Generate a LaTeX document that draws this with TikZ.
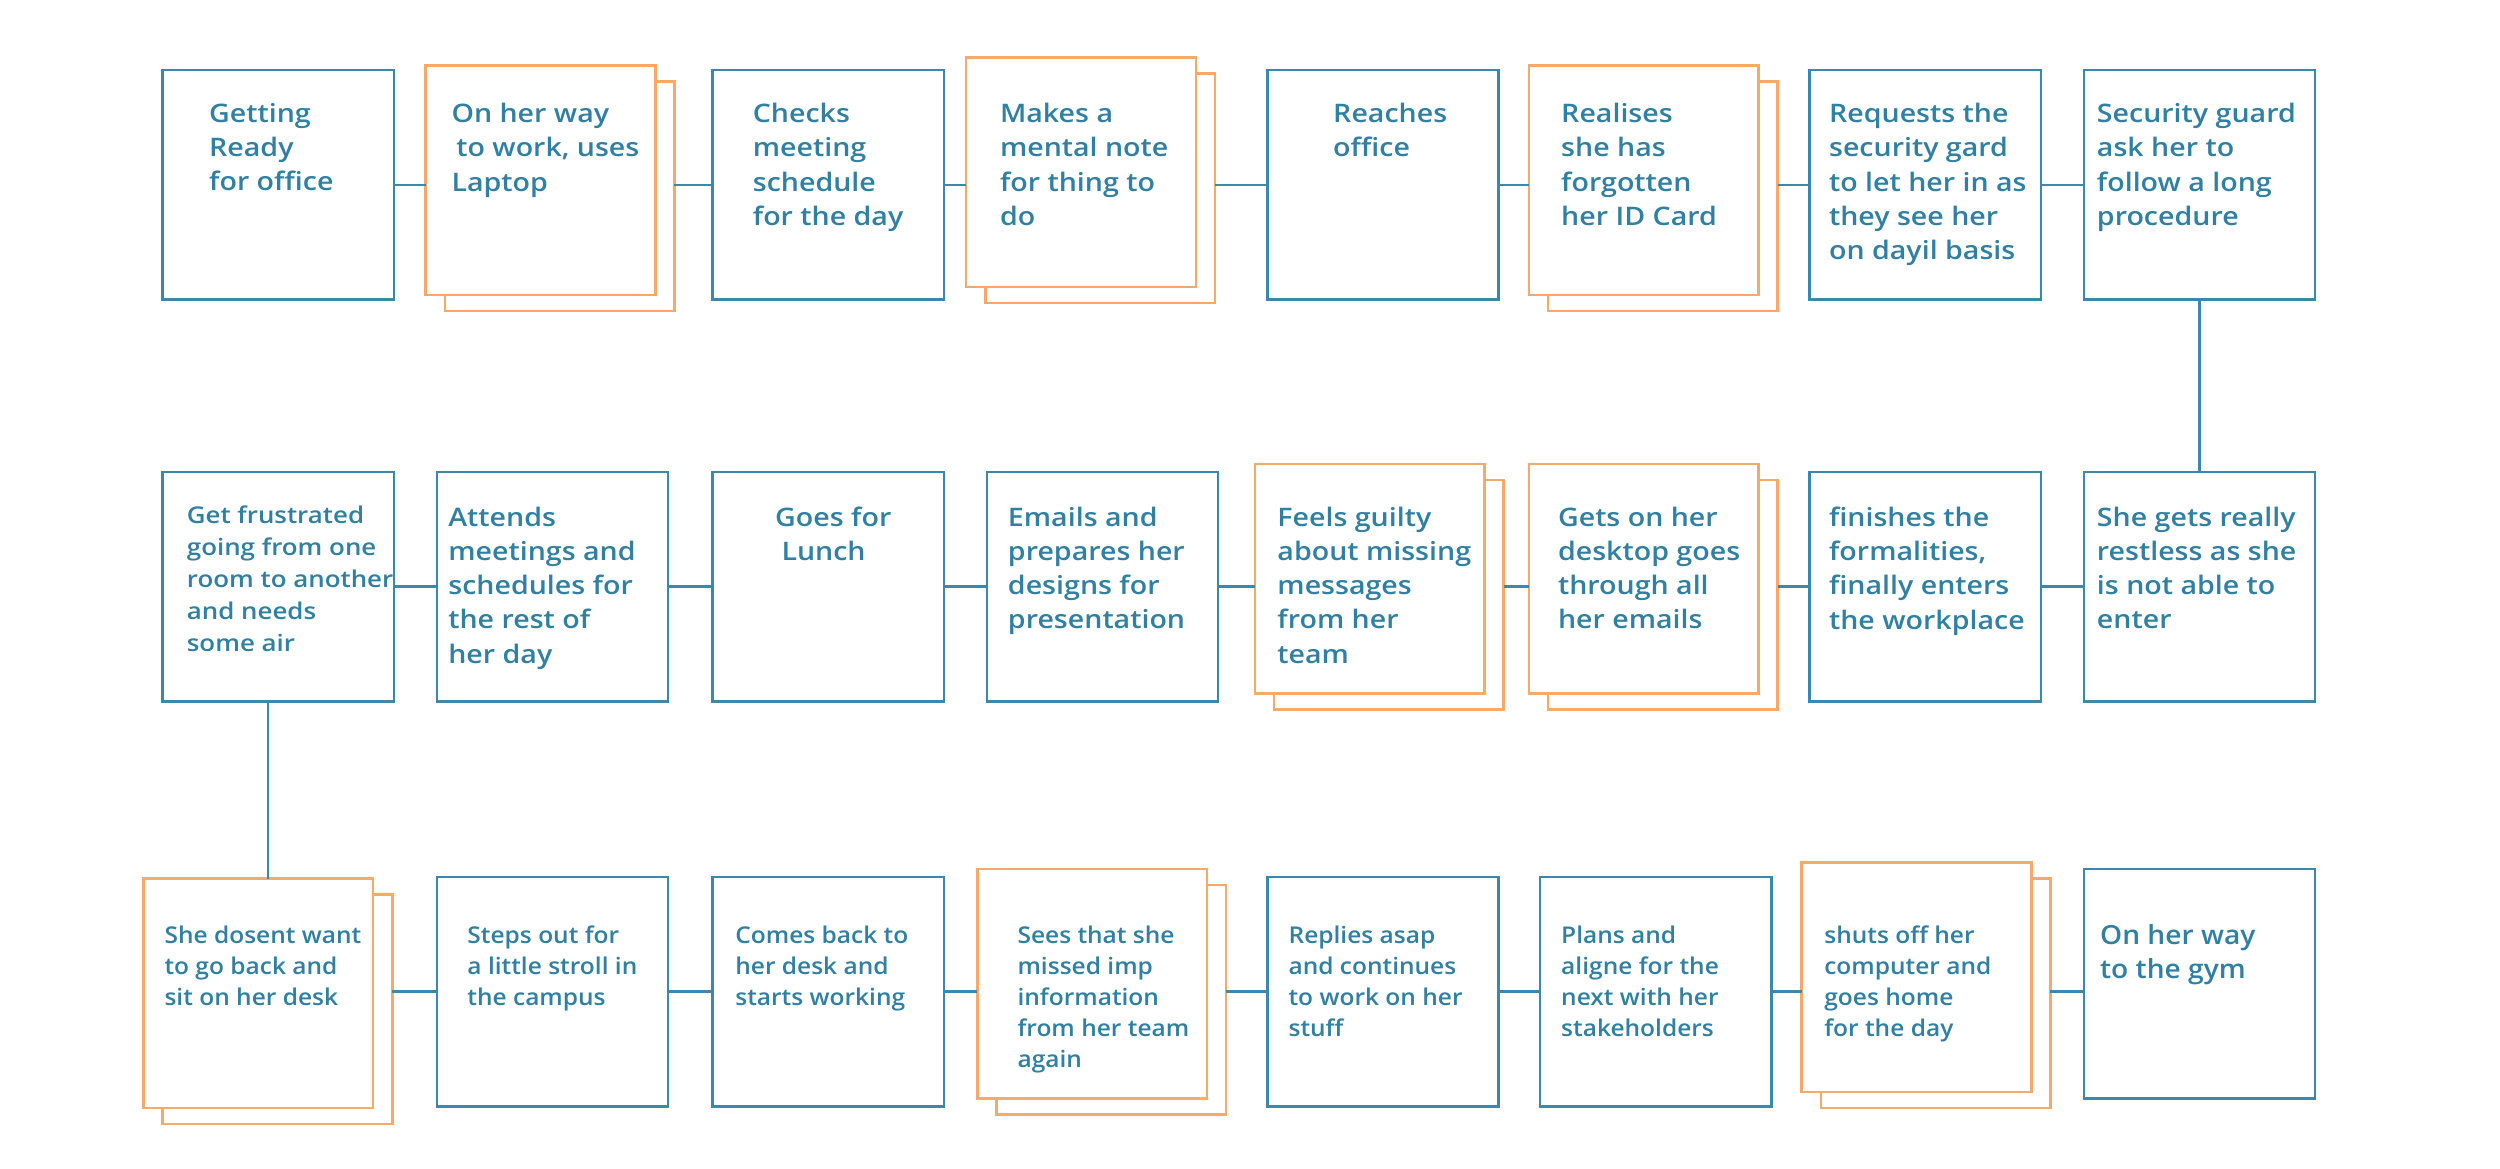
\documentclass[tikz,border=0pt]{standalone}
\usepackage{fontspec}
\IfFontExistsTF{Open Sans SemiBold}{\setmainfont{Open Sans SemiBold}}{%
 \IfFontExistsTF{Open Sans Semibold}{\setmainfont{Open Sans Semibold}}{\setmainfont{Open Sans}[FakeBold=0.6]}}
\definecolor{bx}{HTML}{3A88AE}
\definecolor{og}{HTML}{F7A968}
\definecolor{tx}{HTML}{2F80A3}
\begin{document}
\begin{tikzpicture}[x=1pt,y=-1pt,
 bbox/.style={draw=bx, line width=1.6pt, fill=white, minimum width=145pt, minimum height=144pt, anchor=north west, inner sep=0pt, outer sep=0pt},
 obox/.style={draw=og, line width=1.6pt, fill=white, minimum width=144pt, minimum height=144pt, anchor=north west, inner sep=0pt, outer sep=0pt},
 conn/.style={draw=bx, line width=1.6pt},
 txt/.style={anchor=north west, inner sep=0pt, align=left, text=tx, font=\fontsize{16}{21.5}\selectfont\addfontfeature{FakeStretch=1.12}, execute at begin node=\strut},
 txs/.style={txt, font=\fontsize{14.5}{19.5}\selectfont\addfontfeature{FakeStretch=1.06}},
 txc/.style={txt, font=\fontsize{14.5}{20}\selectfont\addfontfeature{FakeStretch=1.12}}]
\useasboundingbox (0,0) rectangle (1568,733);
\fill[white] (0,0) rectangle (1568,733);
% ---------- Row 1 ----------
\node[bbox] (b1) at (102,44) {};
\node[obox] (b2b) at (279,51) {};
\node[obox] (b2) at (267,41) {};
\node[bbox] (b3) at (447,44) {};
\node[obox] (b4b) at (618,46) {};
\node[obox] (b4) at (606,36) {};
\node[bbox] (b5) at (795,44) {};
\node[obox] (b6b) at (971,51) {};
\node[obox] (b6) at (959,41) {};
\node[bbox] (b7) at (1135,44) {};
\node[bbox] (b8) at (1307,44) {};
% ---------- Row 2 ----------
\node[bbox] (c1) at (102,296) {};
\node[bbox] (c2) at (274,296) {};
\node[bbox] (c3) at (447,296) {};
\node[bbox] (c4) at (619,296) {};
\node[obox] (c5b) at (799,301) {};
\node[obox] (c5) at (787,291) {};
\node[obox] (c6b) at (971,301) {};
\node[obox] (c6) at (959,291) {};
\node[bbox] (c7) at (1135,296) {};
\node[bbox] (c8) at (1307,296) {};
% ---------- Row 3 ----------
\node[obox] (d1b) at (102,561) {};
\node[obox] (d1) at (90,551) {};
\node[bbox] (d2) at (274,550) {};
\node[bbox] (d3) at (447,550) {};
\node[obox] (d4b) at (625,555) {};
\node[obox] (d4) at (613,545) {};
\node[bbox] (d5) at (795,550) {};
\node[bbox] (d6) at (966,550) {};
\node[obox] (d7b) at (1142,551) {};
\node[obox] (d7) at (1130,541) {};
\node[bbox] (d8) at (1307,545) {};
% ---------- connectors ----------
\draw[conn] (b1.east) -- (b1.east -| b2.west);
\draw[conn] (b3.west -| b2b.east) -- (b3.west);
\draw[conn] (b3.east) -- (b3.east -| b4.west);
\draw[conn] (b5.west -| b4b.east) -- (b5.west);
\draw[conn] (b5.east) -- (b5.east -| b6.west);
\draw[conn] (b7.west -| b6b.east) -- (b7.west);
\draw[conn] (b7.east) -- (b8.west);
\draw[conn] (b8.south) -- (c8.north);
\draw[conn] (c8.west) -- (c7.east);
\draw[conn] (c7.west) -- (c7.west -| c6b.east);
\draw[conn] (c4.east) -- (c4.east -| c5.west);
\draw[conn] (c6.west |- c4.east) -- (c4.east -| c5b.east);
\draw[conn] (c3.east) -- (c4.west);
\draw[conn] (c2.east) -- (c3.west);
\draw[conn] (c1.east) -- (c2.west);
\draw[conn] (c1.south -| 168,0) -- (d1.north -| 168,0);
\draw[conn] (d2.west -| d1b.east) -- (d2.west);
\draw[conn] (d2.east) -- (d3.west);
\draw[conn] (d3.east) -- (d3.east -| d4.west);
\draw[conn] (d5.west -| d4b.east) -- (d5.west);
\draw[conn] (d5.east) -- (d6.west);
\draw[conn] (d6.east) -- (d6.east -| d7.west);
\draw[conn] (d6.east -| d7b.east) -- (d6.east -| d8.west);
% ---------- texts ----------
\node[txt] (t1) at (131,64.6) {Getting\\Ready\\for office};
\node[txt] (t2) at (283,64.6) {On her way\\\hspace{3pt}to work, uses\\Laptop};
\node[txt] (t3) at (472,64.6) {Checks\\meeting\\schedule\\for the day};
\node[txt] (t4) at (627,64.6) {Makes a\\mental note\\for thing to\\do};
\node[txt] (t5) at (836,64.6) {Reaches\\office};
\node[txt] (t6) at (979,64.6) {Realises\\she has\\forgotten\\her ID Card};
\node[txt] (t7) at (1147,64.6) {Requests the\\security gard\\to let her in as\\they see her\\on dayil basis};
\node[txt] (t8) at (1315,64.6) {Security guard\\ask her to\\follow a long\\procedure};
\node[txc] (u1) at (117,317.1) {Get frustrated\\going from one\\room to another\\and needs\\some air};
\node[txt] (u2) at (281,317.6) {Attends\\meetings and\\schedules for\\the rest of\\her day};
\node[txt] (u3) at (486,317.6) {Goes for\\\hspace{4pt}Lunch};
\node[txt] (u4) at (632,317.6) {Emails and\\prepares her\\designs for\\presentation};
\node[txt] (u5) at (801,317.6) {Feels guilty\\about missing\\messages\\from her\\team};
\node[txt] (u6) at (977,317.6) {Gets on her\\desktop goes\\through all\\her emails};
\node[txt] (u7) at (1147,317.6) {finishes the\\formalities,\\finally enters\\the workplace};
\node[txt] (u8) at (1315,317.6) {She gets really\\restless as she\\is not able to\\enter};
\node[txs] (v1) at (103,580.5) {She dosent want\\to go back and\\sit on her desk};
\node[txs] (v2) at (293,580.5) {Steps out for\\a little stroll in\\the campus};
\node[txs] (v3) at (461,580.5) {Comes back to\\her desk and\\starts working};
\node[txs] (v4) at (638,580.5) {Sees that she\\missed imp\\information\\from her team\\again};
\node[txs] (v5) at (808,580.5) {Replies asap\\and continues\\to work on her\\stuff};
\node[txs] (v6) at (979,580.5) {Plans and\\aligne for the\\next with her\\stakeholders};
\node[txs] (v7) at (1144,580.5) {shuts off her\\computer and\\goes home\\for the day};
\node[txt, font=\fontsize{16.5}{21}\selectfont\addfontfeature{FakeStretch=1.07}] (v8) at (1317,579.9) {On her way\\to the gym};
\end{tikzpicture}
\end{document}
